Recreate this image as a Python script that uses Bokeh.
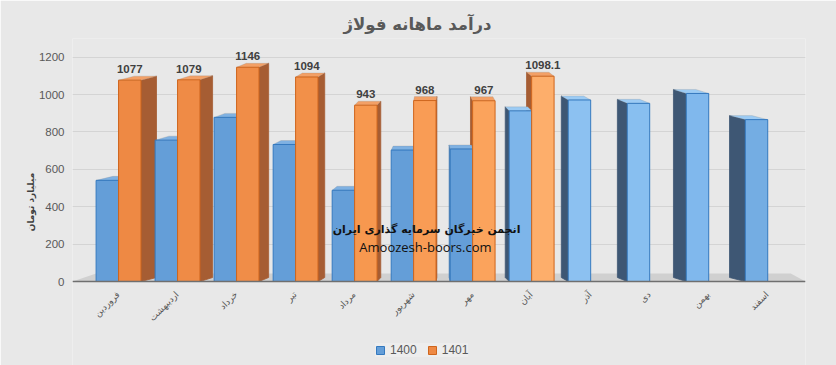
import math
from bokeh.plotting import figure
from bokeh.models import (ColumnDataSource, FixedTicker, Legend, LegendItem, Label, Range1d, Span)
from bokeh.core.properties import value
from bokeh.embed import file_html
from bokeh.resources import INLINE

# ---------------- data ----------------
months = ["فروردین", "اردیبهشت", "خرداد", "تیر", "مرداد", "شهریور",
          "مهر", "آبان", "آذر", "دی", "بهمن", "اسفند"]
income_1400 = [541, 756, 878, 733, 488, 703, 709, 913, 971, 953, 1006, 866]
income_1401 = [1077, 1079, 1146, 1094, 943, 968, 967, 1098.1]
y_ticks = [0, 200, 400, 600, 800, 1000, 1200]
series_names = ["1400", "1401"]
title_text = "درآمد ماهانه فولاژ"
y_label = "میلیارد تومان"
watermark_lines = ["انجمن خبرگان سرمایه گذاری ایران", "Amoozesh-boors.com"]

# ---------------- styles ----------------
BG = "#e8e8e8"
TEXT = "#595959"
PFONT = "DejaVu Sans"
blue_front = ["#649ed8"] * 7 + ["#7db5ea", "#8cc1f1", "#88bff0", "#80b8ed", "#74ade3"]
blue_line = "#3479bf"
blue_side = ["#4b80b5"] * 7 + ["#3e5774"] * 5
blue_top = ["#7fb1e2"] * 7 + ["#9ccbf4"] * 5
orange_front = ["#ee8944", "#ef8b46", "#f08d48", "#f29049", "#f7984f", "#f99c55", "#fba35c", "#fdae6b"]
orange_line = "#cf651c"
orange_side = "#a65d33"
orange_top = "#f3a066"

BAR_W = 0.38
OFFSET = 0.19
X_RANGE = (-0.78, 11.64)
Y_TOP = 1300
PLOT_H_PX = 243                     # pixels between value 0 and Y_TOP
BELOW_PX = 84                       # pixels of frame below value 0 (month labels, legend)
PX_PER_UNIT = PLOT_H_PX / Y_TOP
Y_RANGE = (-BELOW_PX / PX_PER_UNIT, Y_TOP)
FRAME_W, FRAME_H = 733, PLOT_H_PX + BELOW_PX
VP_X = 5.46       # horizontal vanishing point (data units)
K = 0.05          # perspective depth factor
TOP_DY = 4 / PX_PER_UNIT

p = figure(frame_width=FRAME_W, frame_height=FRAME_H, output_backend="svg", toolbar_location=None,
           x_range=Range1d(*X_RANGE), y_range=Range1d(*Y_RANGE),
           min_border_left=72, min_border_right=31, min_border_top=38, min_border_bottom=0,
           background_fill_color=BG, border_fill_color=BG, outline_line_color=None)

p.title.text = title_text
p.title.align = "left"
p.title.offset = 271
p.title.text_font = PFONT
p.title.text_font_size = "16.5px"
p.title.text_font_style = "bold"
p.title.text_color = TEXT
p.title.standoff = 10

# floor
fl_dy = 8 / PX_PER_UNIT
p.patch([X_RANGE[0], X_RANGE[1], X_RANGE[1] - 0.25, X_RANGE[0] + 0.4],
        [0, 0, fl_dy, fl_dy], fill_color="#d0d0d0", line_color=None)
p.add_layout(Span(location=0, dimension="width", line_color="#6f6f6f", line_width=1.5))

# build 3D faces
side_xs, side_ys, side_c = [], [], []
top_xs, top_ys, top_c = [], [], []

def add_faces(xc, v, sc, tc):
    x0, x1 = xc - BAR_W / 2, xc + BAR_W / 2
    dx = (VP_X - xc) * K
    xe = x1 if dx > 0 else x0
    side_xs.append([xe, xe, xe + dx, xe + dx])
    side_ys.append([0, v, v + TOP_DY, TOP_DY])
    side_c.append(sc)
    top_xs.append([x0, x1, x1 + dx, x0 + dx])
    top_ys.append([v, v, v + TOP_DY, v + TOP_DY])
    top_c.append(tc)

bx = [i - OFFSET for i in range(len(income_1400))]
ox = [i + OFFSET for i in range(len(income_1401))]
for i, v in enumerate(income_1400):
    add_faces(bx[i], v, blue_side[i], blue_top[i])
for i, v in enumerate(income_1401):
    add_faces(ox[i], v, orange_side, orange_top)

p.patches(side_xs, side_ys, fill_color=side_c, line_color=side_c, line_width=0.8)
p.patches(top_xs, top_ys, fill_color=top_c, line_color="#888888", line_alpha=0.3, line_width=0.8)

src_b = ColumnDataSource(dict(x=bx, top=income_1400, color=blue_front))
src_o = ColumnDataSource(dict(x=ox, top=income_1401, color=orange_front,
                              lab=[f"{v:g}" for v in income_1401]))

rb = p.vbar(x="x", top="top", bottom=0, width=BAR_W, source=src_b,
            fill_color="color", line_color=blue_line, line_width=1)
ro = p.vbar(x="x", top="top", bottom=0, width=BAR_W, source=src_o,
            fill_color="color", line_color=orange_line, line_width=1)

p.text(x="x", y="top", text="lab", source=src_o, text_align="center",
       text_baseline="bottom", y_offset=-7, text_font=value("Liberation Sans"),
       text_font_size="11.5px", text_font_style="bold", text_color="#404040")

# month labels (category axis), rotated, hanging below the floor edge
src_m = ColumnDataSource(dict(x=list(range(len(months))), y=[0] * len(months), m=months))
p.text(x="x", y="y", text="m", source=src_m, angle=math.pi / 4,
       text_align="right", text_baseline="top", x_offset=-4, y_offset=8,
       text_font=value(PFONT), text_font_size="9px", text_color=TEXT)

# watermark
p.add_layout(Label(x=5.22, y=278, text=watermark_lines[0], text_align="center",
                   text_baseline="middle", text_font=PFONT, text_font_size="11px",
                   text_font_style="bold", text_color="#111111"))
p.add_layout(Label(x=5.2, y=187, text=watermark_lines[1], text_align="center",
                   text_baseline="middle", text_font="Open Sans", text_font_size="13px",
                   text_color="#111111"))

# axes
p.xaxis.visible = False

p.yaxis.ticker = FixedTicker(ticks=y_ticks)
p.yaxis.major_label_text_font = "Liberation Sans"
p.yaxis.major_label_text_font_size = "11.5px"
p.yaxis.major_label_text_color = TEXT
p.yaxis.major_label_standoff = 8
p.yaxis.axis_line_color = None
p.yaxis.major_tick_line_color = None
p.yaxis.major_tick_out = 0
p.yaxis.minor_tick_line_color = None
p.yaxis.axis_label = y_label
p.yaxis.axis_label_text_font = PFONT
p.yaxis.axis_label_text_font_size = "9px"
p.yaxis.axis_label_text_font_style = "bold"
p.yaxis.axis_label_text_color = "#404040"
p.yaxis.axis_label_standoff = 0

p.xgrid.grid_line_color = None
p.ygrid.ticker = FixedTicker(ticks=y_ticks)
p.ygrid.grid_line_color = "#d4d4d4"

legend = Legend(items=[LegendItem(label=series_names[0], renderers=[rb], index=0),
                       LegendItem(label=series_names[1], renderers=[ro], index=0)],
                orientation="horizontal", location=(303, 8),
                label_text_font="Liberation Sans", label_text_font_size="12px",
                label_text_color=TEXT, glyph_width=10, glyph_height=10,
                spacing=10, padding=3, margin=0, label_height=12,
                background_fill_color="#f0f0f0", background_fill_alpha=0.6,
                border_line_color=None)
p.add_layout(legend, "center")

open("out.html", "w").write(file_html(p, INLINE))
